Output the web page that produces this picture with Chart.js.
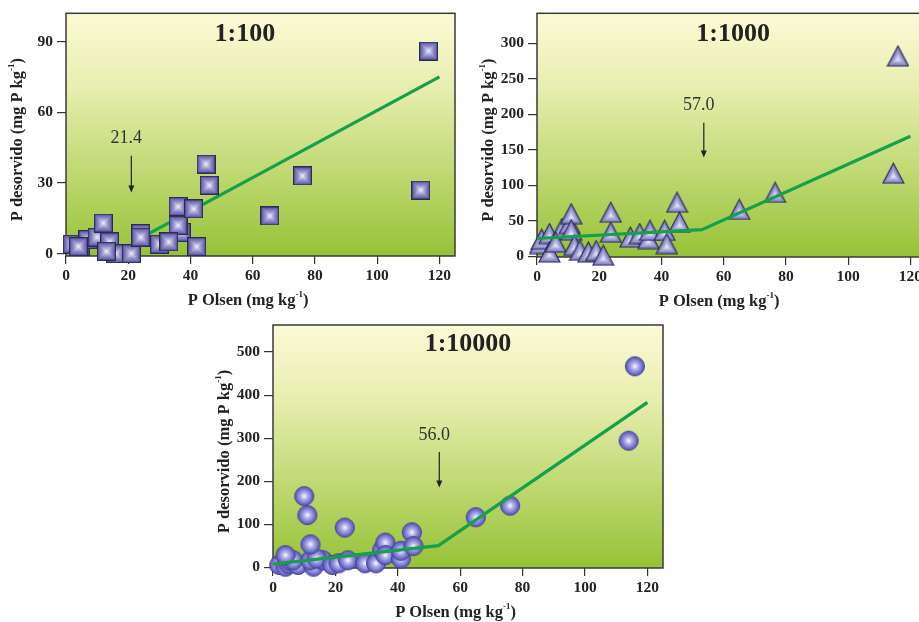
<!DOCTYPE html>
<html>
<head>
<meta charset="utf-8">
<script src="https://cdn.jsdelivr.net/npm/chart.js@4.4.0/dist/chart.umd.min.js"></script>
<style>
  html, body { margin: 0; padding: 0; background: #fff; overflow: hidden; width: 919px; height: 622px; }
  .box { position: absolute; }
</style>
</head>
<body>
<div class="box" style="left:0px;top:0px;width:466px;height:315px"><canvas id="c100"></canvas></div>
<div class="box" style="left:460px;top:0px;width:477px;height:315px"><canvas id="c1000"></canvas></div>
<div class="box" style="left:200px;top:308px;width:474px;height:314px"><canvas id="c10000"></canvas></div>
<script>
// shared x ticks (P Olsen, mg/kg)
const xTicks = [0, 20, 40, 60, 80, 100, 120];

// 1:100
const yTicks100 = [0, 30, 60, 90];
const olsen100  = [2, 4.5, 7, 10, 4, 14, 12, 16, 13, 21, 24, 24, 30, 37, 36, 33, 42, 36, 41, 45, 46, 65.5, 76, 114, 116.5];
const desorb100 = [4, 3, 6, 7, 3, 5, 13, 0, 1, 0, 8.5, 7, 4, 9, 12, 5, 3, 20, 19, 38, 29, 16, 33, 27, 86];
const fitX100 = [21.4, 120];
const fitY100 = [4.8, 75];

// 1:1000
const yTicks1000 = [0, 50, 100, 150, 200, 250, 300];
const olsen1000  = [1, 1.5, 4, 4, 8, 6, 10.5, 11, 11, 12, 13.8, 16.5, 19, 21.3, 23.7, 23.7, 30, 33, 35.8, 36.3, 41, 41.7, 45, 45.8, 65, 76.5, 114.5, 116];
const desorb1000 = [18, 24, 32, 6, 39, 20, 46, 60, 37, 15.5, 8.4, 6, 8, 1.4, 34, 62, 27, 32, 25, 36.5, 36.5, 18, 76, 48, 66, 90, 117, 282];
const fitX1000 = [0, 53, 120];
const fitY1000 = [25, 37.5, 169];

// 1:10000
const yTicks10000 = [0, 100, 200, 300, 400, 500];
const olsen10000  = [2, 4, 5, 5.5, 8, 6.5, 4, 13, 12, 16, 14, 19, 21, 24, 12, 11, 10, 23, 29.5, 33, 35, 36, 36, 41, 41, 44.5, 45, 65, 76, 114, 116];
const desorb10000 = [5, 1, 8, 15, 5, 16, 28, 1, 16, 16, 20, 5, 9, 16, 53, 121, 165, 92, 9, 9, 40, 57, 28, 20, 38, 81, 49, 116, 143, 294, 467];
const fitX10000 = [0, 53, 120];
const fitY10000 = [7, 50, 383];

const SERIF = '"Liberation Serif", "DejaVu Serif", serif';

function pairs(xs, ys) { return xs.map((x, i) => ({ x: x, y: ys[i] })); }

function mix(a, b, t) {
  return 'rgb(' + a.map((v, i) => Math.round(v + (b[i] - v) * t)).join(',') + ')';
}

// marker images
function squareMarker(size) {
  const c = document.createElement('canvas');
  c.width = c.height = size;
  const g = c.getContext('2d');
  const half = size / 2;
  for (let i = 0; i < half; i++) {
    const t = Math.pow(i / half, 1.5);
    g.fillStyle = mix([100, 96, 178], [255, 255, 255], t);
    g.fillRect(i, i, size - 2 * i, size - 2 * i);
  }
  g.strokeStyle = '#2c2a4e';
  g.lineWidth = 1.2;
  g.strokeRect(0.6, 0.6, size - 1.2, size - 1.2);
  return c;
}

function triangleMarker(w, h) {
  const c = document.createElement('canvas');
  c.width = w + 2; c.height = h + 2;
  const g = c.getContext('2d');
  const cx = (w + 2) / 2, top = 1, bot = h + 1;
  const cy = bot - (bot - top) / 3;
  const steps = 12;
  for (let i = 0; i < steps; i++) {
    const k = 1 - i / steps;
    g.fillStyle = mix([128, 126, 198], [248, 248, 255], Math.pow(i / steps, 1.4));
    g.beginPath();
    g.moveTo(cx, cy + (top - cy) * k);
    g.lineTo(cx + (1 - cx) * k, cy + (bot - cy) * k);
    g.lineTo(cx + (w + 1 - cx) * k, cy + (bot - cy) * k);
    g.closePath();
    g.fill();
  }
  g.strokeStyle = '#2a2950';
  g.lineWidth = 1.1;
  g.beginPath();
  g.moveTo(cx, top); g.lineTo(1, bot); g.lineTo(w + 1, bot); g.closePath();
  g.stroke();
  return c;
}

function circleMarker(d) {
  const c = document.createElement('canvas');
  c.width = c.height = d + 2;
  const g = c.getContext('2d');
  const r = d / 2, cx = r + 1;
  const grd = g.createRadialGradient(cx, cx, 0, cx, cx, r);
  grd.addColorStop(0, '#ffffff');
  grd.addColorStop(0.3, '#b8b7ea');
  grd.addColorStop(0.75, '#716ecb');
  grd.addColorStop(1, '#5855b4');
  g.fillStyle = grd;
  g.beginPath(); g.arc(cx, cx, r - 0.5, 0, Math.PI * 2); g.fill();
  g.strokeStyle = '#3f3d9a';
  g.lineWidth = 1;
  g.stroke();
  return c;
}

// background, frame, axis titles, panel label, arrow annotation
const decor = {
  id: 'decor',
  beforeDatasetsDraw(chart, args, o) {
    const a = chart.chartArea, ctx = chart.ctx;
    const grd = ctx.createLinearGradient(0, a.top, 0, a.bottom);
    grd.addColorStop(0, '#fcfad6');
    grd.addColorStop(0.3, '#e8eeb0');
    grd.addColorStop(0.65, '#c0d974');
    grd.addColorStop(1, '#96c236');
    ctx.save();
    ctx.fillStyle = grd;
    ctx.fillRect(a.left, a.top, a.right - a.left, a.bottom - a.top);
    ctx.strokeStyle = '#3a3a3a';
    ctx.lineWidth = 1.5;
    ctx.strokeRect(a.left, a.top, a.right - a.left, a.bottom - a.top);
    ctx.restore();
  },
  afterDraw(chart, args, o) {
    const a = chart.chartArea, ctx = chart.ctx;
    const xs = chart.scales.x, ys = chart.scales.y;
    ctx.save();
    ctx.fillStyle = '#222';
    // panel label
    ctx.font = 'bold 26px ' + SERIF;
    ctx.textAlign = 'center';
    ctx.textBaseline = 'middle';
    ctx.fillText(o.label, xs.getPixelForValue(o.labelAt[0]), ys.getPixelForValue(o.labelAt[1]));
    // arrow annotation
    const ax = xs.getPixelForValue(o.arrow.x);
    ctx.fillStyle = '#333';
    ctx.font = '18px ' + SERIF;
    ctx.fillText(o.arrow.text, xs.getPixelForValue(o.arrow.textX), ys.getPixelForValue(o.arrow.textY));
    const y0 = ys.getPixelForValue(o.arrow.from), y1 = ys.getPixelForValue(o.arrow.to);
    ctx.strokeStyle = '#222';
    ctx.lineWidth = 1.2;
    ctx.beginPath(); ctx.moveTo(ax, y0); ctx.lineTo(ax, y1 - 4); ctx.stroke();
    ctx.fillStyle = '#222';
    ctx.beginPath(); ctx.moveTo(ax - 3, y1 - 7); ctx.lineTo(ax + 3, y1 - 7); ctx.lineTo(ax, y1); ctx.closePath(); ctx.fill();
    // axis titles with superscript
    ctx.fillStyle = '#222';
    drawSup(ctx, 'P Olsen (mg kg', '-1', ')', xs.getPixelForValue(58.5), a.bottom + 45);
    ctx.translate(a.left - 48, (a.top + a.bottom) / 2 + 5);
    ctx.rotate(-Math.PI / 2);
    drawSup(ctx, 'P desorvido (mg P kg', '-1', ')', 0, 0);
    ctx.restore();
  }
};

function drawSup(ctx, pre, sup, post, cx, cy) {
  const big = 'bold 16.5px ' + SERIF, small = 'bold 9px ' + SERIF;
  ctx.font = big; const w1 = ctx.measureText(pre).width, w3 = ctx.measureText(post).width;
  ctx.font = small; const w2 = ctx.measureText(sup).width;
  let x = cx - (w1 + w2 + w3) / 2;
  ctx.textAlign = 'left';
  ctx.textBaseline = 'middle';
  ctx.font = big; ctx.fillText(pre, x, cy); x += w1;
  ctx.font = small; ctx.fillText(sup, x, cy - 6); x += w2;
  ctx.font = big; ctx.fillText(post, x, cy);
}

function buildChart(id, p) {
  const pts = {
    type: 'scatter',
    data: pairs(p.xs, p.ys),
    pointStyle: p.marker,
    pointRadius: 10,
    pointHoverRadius: 10,
    clip: false
  };
  const fit = {
    type: 'line',
    data: pairs(p.fitX, p.fitY),
    borderColor: '#16a04a',
    borderWidth: 3.2,
    pointRadius: 0,
    fill: false,
    tension: 0
  };
  const datasets = p.lineOnTop ? [fit, pts] : [pts, fit];
  return new Chart(document.getElementById(id), {
    type: 'scatter',
    data: { datasets: datasets },
    options: {
      responsive: true,
      maintainAspectRatio: false,
      animation: false,
      events: [],
      layout: { padding: p.padding },
      plugins: {
        legend: { display: false },
        tooltip: { enabled: false },
        decor: p.decor
      },
      scales: {
        x: {
          type: 'linear', min: 0, max: 125,
          afterBuildTicks: s => { s.ticks = xTicks.map(v => ({ value: v })); },
          afterFit: s => { s.height = p.xHeight; },
          grid: { drawOnChartArea: false, tickLength: 8, color: '#333', lineWidth: 1.2 },
          border: { display: false },
          ticks: { color: '#222', padding: 3, font: { family: SERIF, size: 15.5, weight: 'bold' } }
        },
        y: {
          type: 'linear', min: p.yMin, max: p.yMax,
          afterBuildTicks: s => { s.ticks = p.yTicks.map(v => ({ value: v })); },
          afterFit: s => { s.width = p.yWidth; },
          grid: { drawOnChartArea: false, tickLength: 9, color: '#333', lineWidth: 1.2 },
          border: { display: false },
          ticks: { color: '#222', padding: 4, font: { family: SERIF, size: 15.5, weight: 'bold' } }
        }
      }
    },
    plugins: [decor]
  });
}

buildChart('c100', {
  xs: olsen100, ys: desorb100, fitX: fitX100, fitY: fitY100,
  marker: squareMarker(19), lineOnTop: false,
  yTicks: yTicks100, yMin: -1, yMax: 102,
  padding: { top: 13, right: 3, left: 0, bottom: 0 }, yWidth: 66, xHeight: 59,
  decor: { label: '1:100', labelAt: [57.5, 93],
           arrow: { text: '21.4', textX: 19.4, textY: 49, x: 21, from: 41.5, to: 26 } }
});

buildChart('c1000', {
  xs: olsen1000, ys: desorb1000, fitX: fitX1000, fitY: fitY1000,
  marker: triangleMarker(21, 20), lineOnTop: true,
  yTicks: yTicks1000, yMin: -1, yMax: 342,
  padding: { top: 13, right: 0.5, left: 0, bottom: 0 }, yWidth: 77, xHeight: 58,
  decor: { label: '1:1000', labelAt: [63, 313],
           arrow: { text: '57.0', textX: 52, textY: 213, x: 53.6, from: 188, to: 139 } }
});

buildChart('c10000', {
  xs: olsen10000, ys: desorb10000, fitX: fitX10000, fitY: fitY10000,
  marker: circleMarker(20), lineOnTop: true,
  yTicks: yTicks10000, yMin: -2, yMax: 563,
  padding: { top: 17, right: 3, left: 0, bottom: 0 }, yWidth: 73, xHeight: 54,
  decor: { label: '1:10000', labelAt: [62.5, 518],
           arrow: { text: '56.0', textX: 51.7, textY: 307, x: 53.3, from: 268, to: 185 } }
});
</script>
</body>
</html>
